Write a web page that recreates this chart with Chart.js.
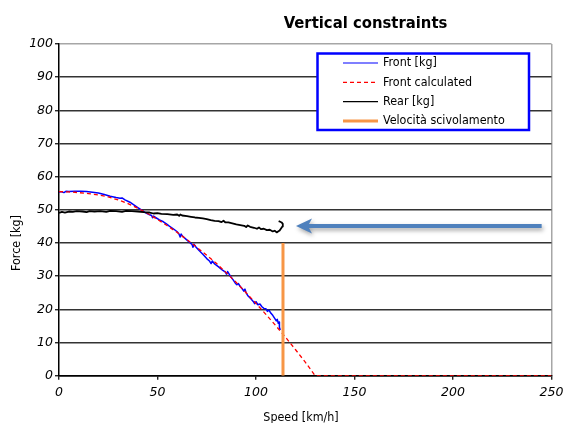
<!DOCTYPE html>
<html>
<head>
<meta charset="utf-8">
<title>Vertical constraints</title>
<script src="https://cdn.jsdelivr.net/npm/chart.js@4.4.1/dist/chart.umd.min.js"></script>
<style>
  html, body { margin: 0; padding: 0; background: #ffffff; }
  #wrap { width: 565px; height: 423px; }
</style>
</head>
<body>
<div id="wrap"><canvas id="chart" width="565" height="423"></canvas></div>
<script>
// ---- data -------------------------------------------------------------
const chartTitle = 'Vertical constraints';
const xAxisTitle = 'Speed [km/h]';
const yAxisTitle = 'Force [kg]';
const speedTicks = [0, 50, 100, 150, 200, 250];
const forceTicks = [0, 10, 20, 30, 40, 50, 60, 70, 80, 90, 100];

// Front load measured [kg]
const frontSpeed = [0, 1, 2.5, 3.5, 5, 8, 11, 14, 17, 20, 23, 26, 29, 31, 32, 33.5, 36, 38, 40, 42, 44, 46, 47, 47.5, 48, 49,
  51, 53, 54.5, 56, 58, 60, 61, 61.5, 62, 62.8, 64, 66, 67.5, 68, 68.6, 69.5, 71, 73, 75, 76.5, 77.2, 77.8, 79, 81, 83,
  84.5, 85, 85.6, 87, 88.5, 89.5, 90.3, 91, 92, 93, 93.8, 94.4, 95, 96, 97.5, 98.6, 99.3, 100, 101, 102, 103, 104, 105,
  105.8, 106.6, 107.5, 108.5, 109.5, 110.3, 110.8, 111.3, 111.8, 112.1, 111.7, 112.3];
const frontForce = [55.3, 55.5, 55.2, 55.6, 55.5, 55.6, 55.6, 55.5, 55.3, 55.1, 54.6, 54.1, 53.7, 53.5, 53.6, 53.0, 52.3, 51.5, 50.7, 49.9, 49.1, 48.5, 48.3, 47.6, 48.1, 47.7,
  47.0, 46.4, 45.8, 45.1, 44.3, 43.4, 42.6, 41.8, 42.7, 42.0, 41.4, 40.3, 39.6, 38.7, 39.6, 38.8, 37.8, 36.6, 35.3, 34.5, 33.8, 34.6, 33.7, 32.8, 31.8,
  31.2, 30.6, 31.4, 30.0, 28.8, 27.9, 27.4, 27.8, 26.9, 26.2, 25.5, 26.1, 25.0, 24.0, 23.1, 22.4, 21.7, 22.3, 21.4, 21.6, 20.8, 20.3, 20.2,
  19.4, 19.8, 18.9, 18.2, 17.3, 16.5, 17.0, 15.8, 16.2, 14.9, 14.6, 13.8];

// Front load from the model [kg]
const calcSpeed = [0, 5, 10, 15, 20, 25, 30, 35, 40, 45, 50, 55, 60, 65, 70, 75, 80, 85, 90, 95, 100, 105, 110, 115, 120, 125, 130, 250];
const calcForce = [55.5, 55.4, 55.2, 54.9, 54.5, 53.9, 53.0, 51.9, 50.5, 48.9, 47.1, 45.2, 43.2, 41.0, 38.7, 36.3, 33.8, 31.0, 28.1, 25.0, 21.8, 18.5, 15.1, 11.6, 7.9, 4.1, 0, 0];

// Rear load measured [kg]
const rearSpeed = [0, 1.5, 3, 5, 7, 9, 12, 14, 15.5, 18, 21, 24, 26, 29, 32, 34, 37, 40, 43, 46, 48, 50, 52, 55, 58, 60, 61, 61.6, 62.5,
  65, 67, 69, 71, 73, 75, 77, 79, 81, 82.5, 83.5, 84.5, 86, 88, 90, 92, 94, 95, 95.8, 97, 99, 100.5, 101.5, 102.5, 104, 105.5,
  107, 108.5, 109.5, 110.5, 111.2, 112, 112.7, 113.4, 113.6, 113.0, 112.3, 111.5];
const rearForce = [49.1, 49.4, 49.2, 49.5, 49.4, 49.6, 49.5, 49.3, 49.6, 49.5, 49.6, 49.4, 49.7, 49.6, 49.4, 49.7, 49.6, 49.5, 49.3, 49.2, 48.9, 49.0, 48.8, 48.7, 48.5, 48.6, 48.2, 48.6, 48.3,
  48.1, 47.9, 47.7, 47.6, 47.4, 47.2, 46.9, 46.7, 46.6, 46.3, 46.7, 46.2, 46.2, 45.9, 45.6, 45.4, 45.2, 44.8, 45.3, 44.9, 44.6, 44.3, 44.7, 44.2, 44.3, 43.9,
  44.0, 43.5, 43.7, 43.2, 43.5, 43.8, 44.4, 45.0, 45.8, 46.2, 46.4, 46.6];

// Slip speed marker
const slipSpeed = [113.7, 113.7];
const slipForce = [0, 40];

// Pointer arrow (data units): tail -> tip
const arrowSpeed = [245, 120.3];
const arrowForce = [45.1, 45.1];

// ---- helpers ------------------------------------------------------------
const pairs = (xs, ys) => xs.map((x, i) => ({ x: x, y: ys[i] }));
const TEXT_FONT = "'DejaVu Sans Condensed', 'DejaVu Sans', sans-serif";
const TICK_FONT = "italic 12.5px 'DejaVu Sans', sans-serif";

// Tick labels, legend box, titles and arrow are painted on the canvas
const decorations = {
  id: 'decorations',
  afterDatasetsDraw(chart) {
    const ctx = chart.ctx;
    const xs = chart.scales.x, ys = chart.scales.y;

    // arrow
    const x0 = xs.getPixelForValue(arrowSpeed[0]), y0 = ys.getPixelForValue(arrowForce[0]);
    const x1 = xs.getPixelForValue(arrowSpeed[1]), y1 = ys.getPixelForValue(arrowForce[1]);
    const headLen = 16, headHalf = 7.5, shaft = 4;
    ctx.save();
    ctx.shadowColor = 'rgba(0,0,0,0.35)';
    ctx.shadowBlur = 4;
    ctx.shadowOffsetX = 1.5;
    ctx.shadowOffsetY = 2.5;
    ctx.fillStyle = '#4f81bd';
    ctx.beginPath();
    ctx.moveTo(x1, y1);
    ctx.lineTo(x1 + headLen, y1 - headHalf);
    ctx.lineTo(x1 + headLen - 3, y1 - shaft / 2);
    ctx.lineTo(x0, y0 - shaft / 2);
    ctx.lineTo(x0, y0 + shaft / 2);
    ctx.lineTo(x1 + headLen - 3, y1 + shaft / 2);
    ctx.lineTo(x1 + headLen, y1 + headHalf);
    ctx.closePath();
    ctx.fill();
    ctx.restore();

    // legend
    const box = { l: 317.5, t: 53.5, r: 529, b: 130 };
    ctx.save();
    ctx.fillStyle = '#ffffff';
    ctx.fillRect(box.l, box.t, box.r - box.l, box.b - box.t);
    ctx.strokeStyle = '#0000ff';
    ctx.lineWidth = 2.5;
    ctx.strokeRect(box.l, box.t, box.r - box.l, box.b - box.t);
    ctx.font = '12.4px ' + TEXT_FONT;
    ctx.textBaseline = 'middle';
    ctx.textAlign = 'left';
    chart.data.datasets.forEach((ds, i) => {
      const y = 63 + i * 19.3;
      ctx.beginPath();
      ctx.strokeStyle = ds.borderColor;
      ctx.lineWidth = ds.legendWidth || ds.borderWidth;
      ctx.setLineDash(ds.borderDash || []);
      ctx.moveTo(343, y);
      ctx.lineTo(378, y);
      ctx.stroke();
      ctx.setLineDash([]);
      ctx.fillStyle = '#000000';
      ctx.fillText(ds.label, 383, y);
    });
    ctx.restore();

    // tick labels (italic)
    ctx.save();
    ctx.fillStyle = '#000000';
    ctx.font = TICK_FONT;
    ctx.textBaseline = 'middle';
    ctx.textAlign = 'right';
    forceTicks.forEach(v => ctx.fillText(String(v), ys.left + ys.width - 6, ys.getPixelForValue(v)));
    ctx.textAlign = 'center';
    speedTicks.forEach(v => ctx.fillText(String(v), xs.getPixelForValue(v), xs.top + 17.5));
    ctx.restore();

    // titles
    ctx.save();
    ctx.fillStyle = '#000000';
    ctx.textAlign = 'center';
    ctx.font = 'bold 16.5px ' + TEXT_FONT;
    ctx.textBaseline = 'alphabetic';
    ctx.fillText(chartTitle, 365.5, 27.7);
    ctx.font = '12.4px ' + TEXT_FONT;
    ctx.textBaseline = 'middle';
    ctx.fillText(xAxisTitle, 301, 418);
    ctx.translate(17, 243);
    ctx.rotate(-Math.PI / 2);
    ctx.fillText(yAxisTitle, 0, 0);
    ctx.restore();
  }
};

new Chart(document.getElementById('chart'), {
  type: 'scatter',
  data: {
    datasets: [
      { label: 'Front [kg]', data: pairs(frontSpeed, frontForce), borderColor: '#0000ff', borderWidth: 1.5, legendWidth: 1.2, order: 3 },
      { label: 'Front calculated', data: pairs(calcSpeed, calcForce), borderColor: '#ff0000', borderWidth: 1.3, borderDash: [4, 3], order: 2 },
      { label: 'Rear [kg]', data: pairs(rearSpeed, rearForce), borderColor: '#000000', borderWidth: 1.8, legendWidth: 1.2, order: 1 },
      { label: 'Velocità scivolamento', data: pairs(slipSpeed, slipForce), borderColor: '#f79646', borderWidth: 3, order: 0 }
    ].map(d => Object.assign({ showLine: true, pointRadius: 0, pointHoverRadius: 0, fill: false, tension: 0, borderJoinStyle: 'round' }, d))
  },
  options: {
    responsive: false,
    devicePixelRatio: 1,
    animation: false,
    events: [],
    layout: { padding: { left: 0, top: 44, right: 13.5, bottom: 0 } },
    plugins: { legend: { display: false }, tooltip: { enabled: false }, title: { display: false } },
    scales: {
      x: {
        type: 'linear', min: 0, max: 250,
        afterBuildTicks: s => { s.ticks = speedTicks.map(v => ({ value: v })); },
        afterFit: s => { s.height = 47.3; },
        border: { display: true, color: '#000000', width: 1.5 },
        grid: {
          color: c => (c.tick && c.tick.value === 250) ? '#a6a6a6' : 'rgba(0,0,0,0)',
          lineWidth: 1.5, tickColor: '#000000', tickLength: 4, tickWidth: 1.2, drawOnChartArea: true
        },
        ticks: { display: false }
      },
      y: {
        type: 'linear', min: 0, max: 100,
        afterBuildTicks: s => { s.ticks = forceTicks.map(v => ({ value: v })); },
        afterFit: s => { s.width = 59; },
        border: { display: true, color: '#000000', width: 1.5 },
        grid: {
          color: c => (c.tick && c.tick.value === 100) ? '#a6a6a6' : (c.tick && c.tick.value === 0 ? '#000000' : '#333333'),
          lineWidth: 1.5, tickColor: '#000000', tickLength: 4, tickWidth: 1.2
        },
        ticks: { display: false }
      }
    }
  },
  plugins: [decorations]
});
</script>
</body>
</html>
